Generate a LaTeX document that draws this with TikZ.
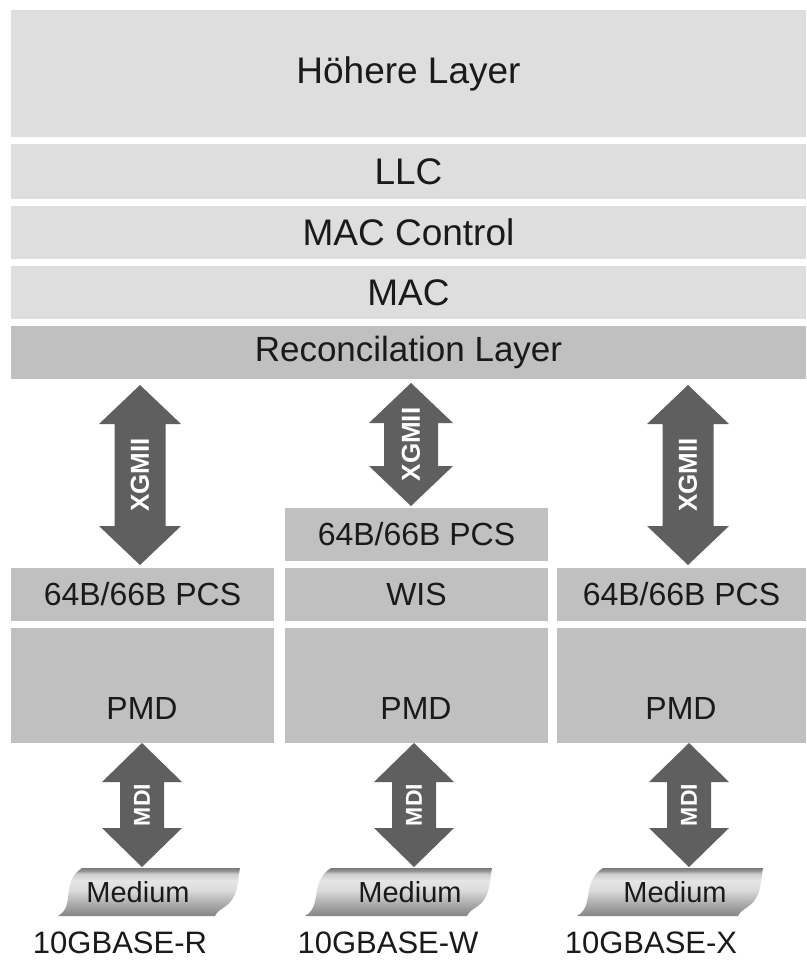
\documentclass[tikz,border=0pt]{standalone}
\usepackage{fontspec}
\setmainfont{Liberation Sans}
\usetikzlibrary{calc}

\definecolor{layerlight}{HTML}{DEDEDE}
\definecolor{layerdark}{HTML}{C0C0C0}
\definecolor{ifacegray}{HTML}{5F5F5F}
\definecolor{inkgray}{HTML}{1A1A1A}

% vertical shading of the medium ribbons (listed bottom to top)
\pgfdeclareverticalshading{mediumshade}{100bp}{%
  color(0bp)=(black!48); color(25bp)=(black!48); color(40bp)=(black!30);
  color(52bp)=(black!14); color(62bp)=(black!10); color(69bp)=(black!20);
  color(72bp)=(black!42); color(75bp)=(black!52); color(100bp)=(black!52)}

% double-headed block arrow between two named points
% #1 top tip, #2 bottom tip, #3 head half width, #4 head length, #5 shaft half width
\newcommand\fatarrow[5]{%
  \fill[ifacegray] let \p1=(#1), \p2=(#2) in
    (\x1,\y1) -- (\x1+#3,\y1-#4) -- (\x1+#5,\y1-#4) -- (\x1+#5,\y2+#4)
    -- (\x1+#3,\y2+#4) -- (\x2,\y2) -- (\x1-#3,\y2+#4) -- (\x1-#5,\y2+#4)
    -- (\x1-#5,\y1-#4) -- (\x1-#3,\y1-#4) -- cycle;}

% medium ribbon: #1 bottom-left x, #2 top-left x, #3 top-right x, #4 bottom-right x
\newcommand\mediumtape[4]{%
  \shade[shading=mediumshade]
    (#2,868) -- (#3,868)
    .. controls (#3-3,884) and (#4+24,898) .. (#4+8,908)
    .. controls (#4+3,911) and (#4+1,914) .. (#4,916)
    -- (#1,916)
    .. controls (#1+18,906) and (#2-22,882) .. (#2,868) -- cycle;}

\begin{document}
\begin{tikzpicture}[x=1pt,y=-1pt,
  layerbox/.style={fill=#1, inner sep=0pt, outer sep=0pt, anchor=north west},
  toptext/.style={text=inkgray, font=\fontsize{37}{40}\selectfont},
  phytext/.style={text=inkgray, font=\fontsize{32}{36}\selectfont},
  ifacetext/.style={text=white, font=\bfseries\fontsize{26}{28}\selectfont, inner sep=0pt},
  mditext/.style={text=white, font=\bfseries\fontsize{23}{26}\selectfont, inner sep=0pt},
  medtext/.style={text=inkgray, font=\fontsize{29}{32}\selectfont, inner sep=0pt},
  vartext/.style={text=inkgray, font=\fontsize{31}{34}\selectfont, inner sep=0pt}]

\useasboundingbox (0,0) rectangle (806,961);
\fill[white] (0,0) rectangle (806,961);

% common upper layers
\node[layerbox=layerlight, minimum width=795pt, minimum height=127pt, toptext] (hl) at (11,10) {Höhere Layer};
\node[layerbox=layerlight, minimum width=795pt, minimum height=55pt, toptext] (llc) at (11,144) {LLC};
\node[layerbox=layerlight, minimum width=795pt, minimum height=53pt, toptext] (macc) at (11,206) {MAC Control};
\node[layerbox=layerlight, minimum width=795pt, minimum height=53pt, toptext] (mac) at (11,266) {MAC};
\node[layerbox=layerdark, minimum width=795pt, minimum height=53pt, text=inkgray,
      font=\fontsize{35}{38}\selectfont] (rec) at (11,326) {Reconcilation Layer};

% 10GBASE-R column
\node[layerbox=layerdark, minimum width=263pt, minimum height=53pt, phytext] (pcsR) at (11,568) {64B/66B PCS};
\node[layerbox=layerdark, minimum width=263pt, minimum height=115pt] (pmdR) at (11,628) {};
\node[phytext] (pmdRt) at (142,708) {PMD};

% 10GBASE-W column
\node[layerbox=layerdark, minimum width=263pt, minimum height=53pt, phytext] (pcsW) at (285,508) {64B/66B PCS};
\node[layerbox=layerdark, minimum width=263pt, minimum height=53pt, phytext] (wis) at (285,568) {WIS};
\node[layerbox=layerdark, minimum width=263pt, minimum height=115pt] (pmdW) at (285,628) {};
\node[phytext] (pmdWt) at (416,708) {PMD};

% 10GBASE-X column
\node[layerbox=layerdark, minimum width=249pt, minimum height=53pt, phytext] (pcsX) at (557,568) {64B/66B PCS};
\node[layerbox=layerdark, minimum width=249pt, minimum height=115pt] (pmdX) at (557,628) {};
\node[phytext] (pmdXt) at (681,708) {PMD};

% XGMII interfaces
\coordinate (xgR-t) at (140,385);  \coordinate (xgR-b) at (140,565);
\coordinate (xgW-t) at (411,383);  \coordinate (xgW-b) at (411,506);
\coordinate (xgX-t) at (688,385);  \coordinate (xgX-b) at (688,565);
\fatarrow{xgR-t}{xgR-b}{41pt}{39pt}{25.5pt}
\fatarrow{xgW-t}{xgW-b}{42pt}{40pt}{27pt}
\fatarrow{xgX-t}{xgX-b}{41pt}{39pt}{25.5pt}
\node[ifacetext, rotate=90] (xgRl) at ($(xgR-t)!0.5!(xgR-b)$) {XGMII};
\node[ifacetext, rotate=90] (xgWl) at ($(xgW-t)!0.5!(xgW-b)$) {XGMII};
\node[ifacetext, rotate=90] (xgXl) at ($(xgX-t)!0.5!(xgX-b)$) {XGMII};

% MDI interfaces
\coordinate (mdR-t) at (142,743);  \coordinate (mdR-b) at (142,867);
\coordinate (mdW-t) at (414,743);  \coordinate (mdW-b) at (414,867);
\coordinate (mdX-t) at (689,743);  \coordinate (mdX-b) at (689,867);
\fatarrow{mdR-t}{mdR-b}{40pt}{39pt}{22pt}
\fatarrow{mdW-t}{mdW-b}{40pt}{39pt}{22pt}
\fatarrow{mdX-t}{mdX-b}{40pt}{39pt}{22pt}
\node[mditext, rotate=90] (mdRl) at ($(mdR-t)!0.5!(mdR-b)$) {MDI};
\node[mditext, rotate=90] (mdWl) at ($(mdW-t)!0.5!(mdW-b)$) {MDI};
\node[mditext, rotate=90] (mdXl) at ($(mdX-t)!0.5!(mdX-b)$) {MDI};

% transmission media
\mediumtape{58}{82}{240}{215}
\mediumtape{305}{331}{492}{467}
\mediumtape{577}{603}{763}{738}
\node[medtext] (medR) at (138,892) {Medium};
\node[medtext] (medW) at (410,892) {Medium};
\node[medtext] (medX) at (675,892) {Medium};

% variant names
\node[vartext] (nameR) at (120,943) {10GBASE-R};
\node[vartext] (nameW) at (388,943) {10GBASE-W};
\node[vartext] (nameX) at (651,943) {10GBASE-X};
\end{tikzpicture}
\end{document}
